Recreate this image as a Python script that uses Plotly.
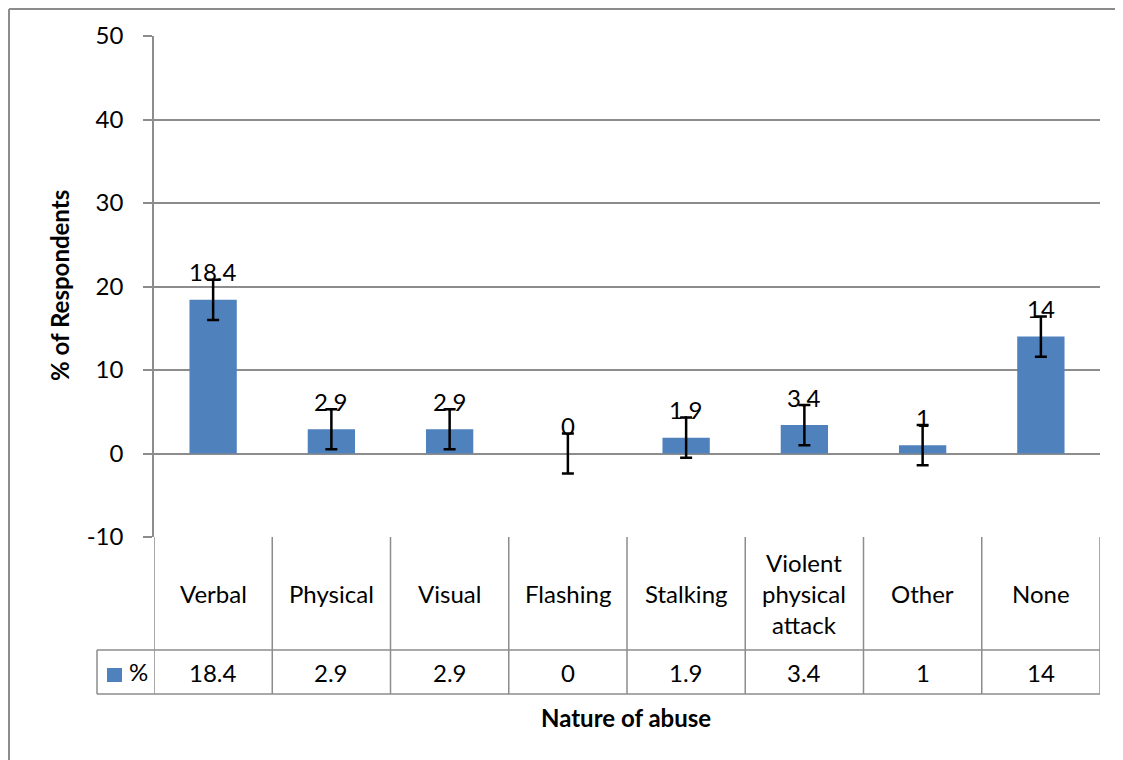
import plotly.graph_objects as go

categories = ["Verbal", "Physical", "Visual", "Flashing", "Stalking", "Violent physical attack", "Other", "None"]
table_labels = ["Verbal", "Physical", "Visual", "Flashing", "Stalking", "Violent<br>physical<br>attack", "Other", "None"]
values = [18.4, 2.9, 2.9, 0, 1.9, 3.4, 1, 14]
value_labels = ["18.4", "2.9", "2.9", "0", "1.9", "3.4", "1", "14"]
errors = [2.4, 2.4, 2.4, 2.4, 2.4, 2.4, 2.4, 2.4]
y_ticks = [-10, 0, 10, 20, 30, 40, 50]
y_tick_labels = ["-10", "0", "10", "20", "30", "40", "50"]

FONT = "Lato"
BLUE = "#4F81BD"
GRID = "#8C8C8C"
FS = 24

# page body has an 8px margin; work in screen coordinates and subtract it
OFF = 8
W, H = 1123 - OFF, 760 - OFF
L, R, T, B = 154 - OFF, 1100 - OFF, 36 - OFF, 537 - OFF


def px_x(p):
    return (p - OFF - L) / (R - L)


def px_y(p):
    return (B - (p - OFF)) / (B - T)


fig = go.Figure()
fig.add_trace(go.Bar(
    x=categories, y=values, width=0.4, marker=dict(color=BLUE, line=dict(width=0)),
    error_y=dict(type="data", array=errors, visible=True, color="black", thickness=2.5, width=6),
    showlegend=False, hoverinfo="skip",
))

annotations = []
for c, v, t in zip(categories, values, value_labels):
    annotations.append(dict(x=c, y=v, xref="x", yref="y", text=t, showarrow=False,
                            xanchor="center", yanchor="middle",
                            yshift=28, font=dict(family=FONT, size=FS, color="black")))

shapes = []
n = len(categories)
for i in range(n + 1):
    shapes.append(dict(type="line", xref="x", yref="paper", x0=i - 0.5, x1=i - 0.5,
                       y0=0, y1=px_y(694), line=dict(color=GRID, width=1.5)))
shapes.append(dict(type="line", xref="paper", yref="paper", x0=px_x(97), x1=1,
                   y0=px_y(650), y1=px_y(650), line=dict(color=GRID, width=1.5)))
shapes.append(dict(type="line", xref="paper", yref="paper", x0=px_x(97), x1=1,
                   y0=px_y(694), y1=px_y(694), line=dict(color=GRID, width=1.5)))
shapes.append(dict(type="line", xref="paper", yref="paper", x0=px_x(97), x1=px_x(97),
                   y0=px_y(650), y1=px_y(694), line=dict(color=GRID, width=1.5)))
shapes.append(dict(type="rect", xref="paper", yref="paper", x0=px_x(107), x1=px_x(122),
                   y0=px_y(668), y1=px_y(682), fillcolor=BLUE, line=dict(width=0)))
# outer chart border (top and left edges visible)
shapes.append(dict(type="line", xref="paper", yref="paper", x0=px_x(9), x1=px_x(1123),
                   y0=px_y(9), y1=px_y(9), line=dict(color="#8C8C8C", width=2), layer="below"))
shapes.append(dict(type="line", xref="paper", yref="paper", x0=px_x(9), x1=px_x(9),
                   y0=px_y(9), y1=px_y(760), line=dict(color="#8C8C8C", width=2), layer="below"))

for c, tl, vl in zip(categories, table_labels, value_labels):
    annotations.append(dict(x=c, y=px_y(593), xref="x", yref="paper", text=tl, showarrow=False,
                            xanchor="center", yanchor="middle",
                            font=dict(family=FONT, size=FS, color="black")))
    annotations.append(dict(x=c, y=px_y(672), xref="x", yref="paper", text=vl, showarrow=False,
                            xanchor="center", yanchor="middle",
                            font=dict(family=FONT, size=FS, color="black")))

annotations.append(dict(x=px_x(127), y=px_y(671), xref="paper", yref="paper", text="%",
                        showarrow=False, xanchor="left", yanchor="middle",
                        font=dict(family=FONT, size=FS, color="black")))
annotations.append(dict(x=px_x(59), y=px_y(286), xref="paper", yref="paper", text="<b>% of Respondents</b>",
                        showarrow=False, textangle=-90, xanchor="center", yanchor="middle",
                        font=dict(family=FONT, size=24, color="black")))
annotations.append(dict(x=px_x(626), y=px_y(717), xref="paper", yref="paper", text="<b>Nature of abuse</b>",
                        showarrow=False, xanchor="center", yanchor="middle",
                        font=dict(family=FONT, size=24, color="black")))

fig.update_layout(
    width=W, height=H,
    margin=dict(l=L, r=W - R, t=T, b=H - B, pad=0),
    paper_bgcolor="white", plot_bgcolor="white",
    xaxis=dict(range=[-0.5, n - 0.5], showticklabels=False, showgrid=False, zeroline=False,
               showline=False, ticks=""),
    yaxis=dict(range=[-10, 50], tickvals=y_ticks, ticktext=y_tick_labels,
               showgrid=True, gridcolor=GRID, gridwidth=1.5,
               zeroline=False, showline=True, linecolor=GRID, linewidth=1.5,
               ticks="outside", ticklen=9, tickcolor=GRID, tickwidth=1.5, ticklabelstandoff=15,
               tickfont=dict(family=FONT, size=FS, color="black")),
    shapes=shapes, annotations=annotations,
)

fig.write_html("out.html")
